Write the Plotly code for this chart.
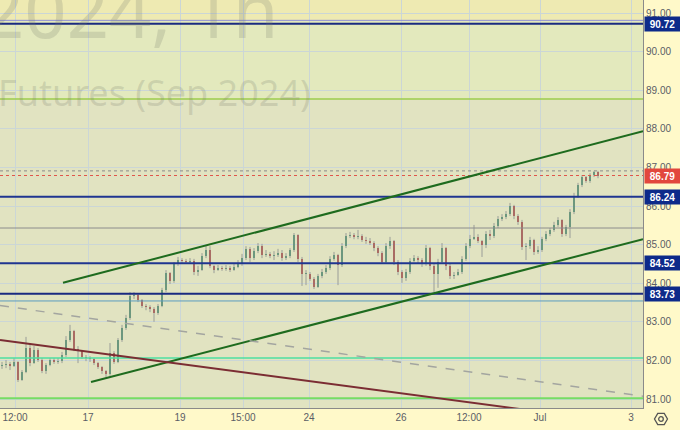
import plotly.graph_objects as go
import math

# ---------------- data (2-hour candles) ----------------
closes = [81.88, 81.91, 81.85, 81.96, 81.49, 81.70, 82.32, 81.93, 82.27, 82.01,
          81.72, 81.88, 82.01, 81.96, 81.98, 82.14, 82.53, 82.76, 82.30, 82.24,
          82.09, 82.06, 82.04, 81.93, 81.83, 81.72, 81.65, 82.19, 81.96, 82.53,
          82.84, 83.10, 83.67, 83.69, 83.56, 83.41, 83.38, 83.33, 83.23, 83.41,
          83.82, 84.26, 84.06, 84.50, 84.60, 84.58, 84.55, 84.58, 84.29, 84.34,
          84.70, 84.86, 84.45, 84.34, 84.39, 84.37, 84.39, 84.34, 84.42, 84.50,
          84.65, 84.89, 84.65, 84.83, 84.96, 84.73, 84.76, 84.70, 84.73, 84.78,
          84.65, 84.70, 84.86, 85.25, 84.63, 84.24, 84.24, 84.11, 83.90, 84.19,
          84.29, 84.39, 84.63, 84.73, 84.47, 84.96, 85.22, 85.25, 85.20, 85.22,
          85.12, 85.09, 85.04, 84.91, 84.78, 84.55, 84.96, 85.09, 84.55, 84.29,
          84.13, 84.29, 84.58, 84.65, 84.60, 84.50, 84.91, 84.45, 84.24, 84.55,
          84.91, 84.45, 84.19, 84.21, 84.29, 84.63, 84.96, 85.14, 85.20, 85.09,
          84.99, 85.27, 85.22, 85.48, 85.66, 85.71, 85.79, 86.00, 85.74, 85.59,
          84.94, 84.96, 85.12, 84.81, 84.86, 85.14, 85.27, 85.38, 85.51, 85.64,
          85.27, 85.46, 85.84, 86.26, 86.54, 86.75, 86.65, 86.80, 86.88, 86.79]

highs = [81.96, 82.01, 81.96, 82.06, 81.98, 81.75, 82.61, 82.45, 82.37, 82.32,
         82.06, 81.93, 82.06, 82.06, 82.06, 82.22, 82.63, 82.92, 82.79, 82.37,
         82.27, 82.14, 82.11, 82.06, 81.96, 81.85, 81.75, 82.45, 82.24, 82.58,
         82.92, 83.18, 83.77, 83.77, 83.72, 83.59, 83.46, 83.43, 83.38, 83.46,
         83.88, 84.34, 84.29, 84.55, 84.68, 84.65, 84.63, 84.65, 84.63, 84.45,
         84.78, 84.99, 84.96, 84.47, 84.47, 84.45, 84.47, 84.45, 84.50, 84.60,
         84.76, 84.96, 84.94, 84.91, 85.04, 85.02, 84.86, 84.81, 84.83, 84.89,
         84.86, 84.78, 84.91, 85.30, 85.27, 84.68, 84.34, 84.29, 84.16, 84.24,
         84.37, 84.47, 84.70, 84.81, 84.76, 85.04, 85.30, 85.33, 85.30, 85.38,
         85.27, 85.20, 85.17, 85.09, 84.96, 84.83, 85.04, 85.20, 85.12, 84.60,
         84.34, 84.37, 84.65, 84.73, 84.70, 84.65, 84.99, 84.94, 84.50, 84.63,
         85.04, 84.94, 84.50, 84.29, 84.37, 84.70, 85.04, 85.25, 85.51, 85.27,
         85.12, 85.35, 85.38, 85.56, 85.74, 85.79, 85.87, 86.08, 86.03, 85.79,
         85.64, 85.04, 85.20, 85.15, 84.96, 85.20, 85.35, 85.43, 85.59, 85.71,
         85.66, 85.51, 85.92, 86.34, 86.60, 86.80, 86.78, 86.85, 86.91, 86.91]

lows = [81.78, 81.80, 81.75, 81.83, 81.44, 81.47, 81.67, 81.85, 81.91, 81.96,
        81.67, 81.65, 81.85, 81.91, 81.91, 81.93, 82.09, 82.48, 82.24, 81.93,
        82.04, 81.98, 81.96, 81.88, 81.78, 81.65, 81.57, 81.60, 81.91, 81.93,
        82.48, 82.79, 83.05, 83.59, 83.51, 83.36, 83.30, 83.25, 83.00, 83.18,
        83.38, 83.77, 83.98, 84.01, 84.45, 84.52, 84.50, 84.50, 84.21, 84.19,
        84.32, 84.65, 84.39, 84.26, 84.32, 84.32, 84.32, 84.29, 84.32, 84.39,
        84.45, 84.60, 84.55, 84.60, 84.78, 84.65, 84.68, 84.65, 84.60, 84.68,
        84.58, 84.60, 84.65, 84.81, 84.55, 83.93, 83.95, 84.06, 83.85, 83.88,
        84.13, 84.24, 84.34, 84.58, 83.95, 84.42, 84.91, 85.17, 85.14, 85.14,
        85.07, 85.02, 84.99, 84.83, 84.70, 84.50, 84.52, 84.89, 84.47, 84.21,
        84.01, 84.06, 84.24, 84.55, 84.52, 84.42, 84.45, 84.34, 83.77, 83.88,
        84.50, 84.34, 84.11, 84.11, 84.19, 84.24, 84.58, 84.91, 85.12, 85.04,
        84.68, 84.91, 85.12, 85.17, 85.43, 85.61, 85.66, 85.74, 85.66, 85.51,
        84.86, 84.60, 84.89, 84.73, 84.76, 84.81, 85.09, 85.22, 85.33, 85.46,
        85.20, 85.22, 85.17, 85.79, 86.21, 86.49, 86.60, 86.60, 86.75, 86.72]

first_open = 81.85
opens = [first_open] + closes[:-1]   # each bar opens where the previous one closed

time_tick_pos = [3.25, 21.5, 44.5, 60.25, 76.75, 99.75, 116.75, 134.5, 157.25]
time_tick_text = ["12:00", "17", "19", "15:00", "24", "26", "12:00", "Jul", "3"]
price_ticks = [81, 82, 83, 84, 85, 86, 87, 88, 89, 90, 91]

# horizontal levels (price)
level_prices = [90.81, 90.72, 88.77, 86.91, 86.79, 86.24, 85.43, 84.52, 83.73, 83.54, 82.06, 81.02]
level_styles = [("#8f8fd6", 1, "solid"), ("#1a2a80", 2, "solid"), ("#9ccc4c", 1.5, "solid"),
                ("#8a8a8a", 1, "dot"), ("#e0554a", 1, "dot"), ("#1f3590", 2, "solid"),
                ("#8c8c8c", 1, "solid"), ("#1f3590", 2, "solid"), ("#1a2a80", 2, "solid"),
                ("#5b9cc0", 1, "solid"), ("#4ddfa0", 1.5, "solid"), ("#76dd64", 2, "solid")]

# trend lines: (x0, p0, x1, p1)
upper_channel = (15.25, 84.01, 160.25, 87.94)
lower_channel = (22.25, 81.44, 160.25, 85.14)
falling_line = (-0.5, 82.53, 129.5, 80.74)
dashed_line = (-0.5, 83.42, 160.25, 81.07)

axis_labels = ["90.72", "86.79", "86.24", "84.52", "83.73"]
axis_label_prices = [90.72, 86.79, 86.24, 84.52, 83.73]
axis_label_colors = ["#0d2a8a", "#e2473d", "#0d2a8a", "#0d2a8a", "#0d2a8a"]

# ---------------- figure ----------------
X_RANGE = [-0.5, 160.25]
Y_RANGE = [80.767, 91.337]
GREEN = "#3e9164"
RED = "#b83a30"
PW, PH = 643.0, 408.0

idx = list(range(len(closes)))
fig = go.Figure()

# wicks
wx, wy = [], []
for i, h, l in zip(idx, highs, lows):
    wx += [i, i, None]
    wy += [l, h, None]
fig.add_trace(go.Scatter(x=wx, y=wy, mode="lines", line=dict(color="#9a9d98", width=1),
                         hoverinfo="skip", showlegend=False))

# bodies
base = [min(o, c) for o, c in zip(opens, closes)]
height = [max(abs(c - o), 0.02) for o, c in zip(opens, closes)]
colors = [GREEN if c >= o else RED for o, c in zip(opens, closes)]
fig.add_trace(go.Bar(x=idx, y=height, base=base, width=0.72,
                     marker=dict(color=colors, line=dict(width=0)),
                     hoverinfo="skip", showlegend=False))

shapes = []
# background bands
shapes.append(dict(type="rect", xref="paper", yref="y", x0=0, x1=1, y0=90.81, y1=Y_RANGE[1],
                   fillcolor="#eeeab2", line=dict(width=0), layer="below"))
shapes.append(dict(type="rect", xref="paper", yref="y", x0=0, x1=1, y0=88.77, y1=90.81,
                   fillcolor="#e3e9bd", line=dict(width=0), layer="below"))

for p, (col, w, dash) in zip(level_prices, level_styles):
    shapes.append(dict(type="line", xref="paper", yref="y", x0=0, x1=1, y0=p, y1=p,
                       line=dict(color=col, width=w, dash=dash), layer="above"))

for (x0, y0, x1, y1), col, w, dash in [
        (upper_channel, "#1e6b1e", 2, "solid"),
        (lower_channel, "#1e6b1e", 2, "solid"),
        (falling_line, "#7b2d33", 2, "solid"),
        (dashed_line, "#a3a5a0", 1.5, "dash")]:
    shapes.append(dict(type="line", xref="x", yref="y", x0=x0, y0=y0, x1=x1, y1=y1,
                       line=dict(color=col, width=w, dash=dash), layer="above"))

# gear icon at bottom-right (pixel -> paper)
cx, cy, r = 661, 419, 6.5
pts = []
for k in range(6):
    a = math.radians(60 * k)
    pts.append(((cx + r * math.cos(a)) / PW, 1 - (cy + r * math.sin(a)) / PH))
path = "M " + " L ".join(f"{x:.5f},{y:.5f}" for x, y in pts) + " Z"
shapes.append(dict(type="path", xref="paper", yref="paper", path=path,
                   line=dict(color="#555", width=1.3), fillcolor="rgba(0,0,0,0)"))
shapes.append(dict(type="circle", xref="paper", yref="paper",
                   x0=(cx - 2.3) / PW, x1=(cx + 2.3) / PW, y0=1 - (cy + 2.3) / PH, y1=1 - (cy - 2.3) / PH,
                   line=dict(color="#555", width=1.3)))

annotations = []
# watermark
annotations.append(dict(text="2024, 1h", xref="paper", yref="paper", x=-20 / PW, y=1 - 9 / PH,
                        xanchor="left", yanchor="middle", showarrow=False,
                        font=dict(family="Noto Sans", size=74, color="rgba(120,125,110,0.22)")))
annotations.append(dict(text="Futures (Sep 2024)", xref="paper", yref="paper", x=-4 / PW, y=1 - 93 / PH,
                        xanchor="left", yanchor="middle", showarrow=False,
                        font=dict(family="Noto Sans", size=36, color="rgba(120,125,110,0.22)")))

for txt, p, col in zip(axis_labels, axis_label_prices, axis_label_colors):
    annotations.append(dict(text=f"<b>{txt}</b>", xref="paper", yref="y", x=1, y=p,
                            xanchor="left", yanchor="middle", xshift=1, showarrow=False,
                            bgcolor=col, width=33, height=12, borderpad=1,
                            font=dict(family="Liberation Sans", size=10, color="white")))

fig.update_layout(
    width=680, height=430,
    margin=dict(l=0, r=37, t=0, b=22, autoexpand=False),
    paper_bgcolor="#fff9c9",
    plot_bgcolor="#e1e3c1",
    shapes=shapes,
    annotations=annotations,
    bargap=0, barmode="overlay",
    showlegend=False,
    xaxis=dict(range=X_RANGE, tickmode="array", tickvals=time_tick_pos, ticktext=time_tick_text,
               showgrid=True, gridcolor="#cbd6d6", gridwidth=1, zeroline=False, automargin=False,
               showline=True, linecolor="#8a8a8a", linewidth=1, ticks="",
               tickfont=dict(family="Liberation Sans", size=10, color="#5a5d66"), fixedrange=True),
    yaxis=dict(range=Y_RANGE, side="right", tickmode="array", tickvals=price_ticks,
               ticktext=[f"{v:.2f}" for v in price_ticks], automargin=False,
               showgrid=True, gridcolor="#cbd6d6", gridwidth=1, zeroline=False,
               showline=True, linecolor="#8a8a8a", linewidth=1, ticks="",
               tickfont=dict(family="Liberation Sans", size=10, color="#5a5d66"), fixedrange=True),
)

fig.write_html("out.html", config={"displayModeBar": False, "staticPlot": True},
               post_script="document.body.style.margin='0';document.body.style.padding='0';")
